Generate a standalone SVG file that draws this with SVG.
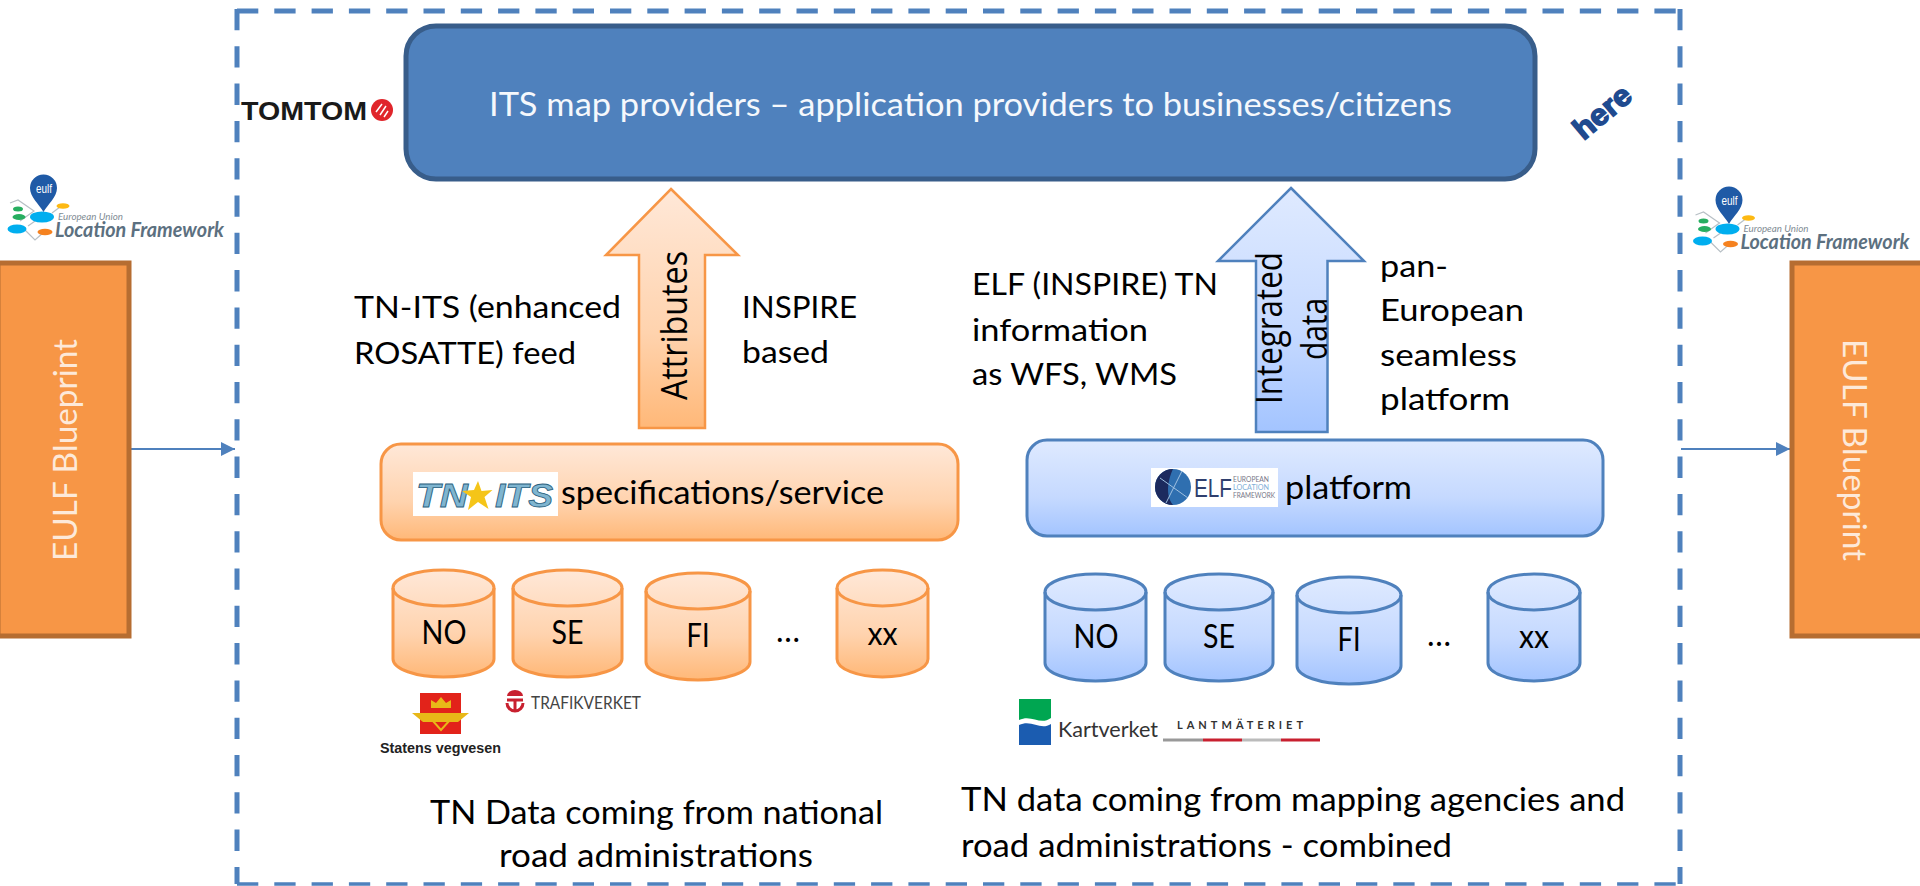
<svg xmlns="http://www.w3.org/2000/svg" width="1920" height="886" viewBox="0 0 1920 886">
<style>
text{font-family:"Lato","Open Sans","Liberation Sans",sans-serif;fill:#000}
.t{font-size:31.500px}
.c{font-size:32px;text-anchor:middle}
.w{font-family:"Open Sans","DejaVu Sans",sans-serif;font-size:37px}
.bp{font-size:32px;fill:#fde9d9;text-anchor:middle}
.o{fill:url(#og);stroke:#f79646;stroke-width:3}
.b{fill:url(#bg);stroke:#4f81bd;stroke-width:3}
.top{fill:none;stroke:#f79646;stroke-width:3}
.topb{fill:none;stroke:#4f81bd;stroke-width:3}
.line{stroke:#4f81bd;stroke-width:2;fill:none}
.dash{stroke:#4f81bd;stroke-width:5;stroke-dasharray:21.3 16;fill:none}
.logo1{font-size:10px;font-style:italic;fill:#7f8c94}
.logo2{font-size:20px;font-weight:700;font-style:italic;fill:#5c7080}
.bpbox{fill:#f79646;stroke:#b66d31;stroke-width:5}
.tn{font-family:"Liberation Sans",sans-serif;font-weight:700;font-style:italic;font-size:33px;fill:#7fb5d0;stroke:#2a5f7e;stroke-width:.8}
</style>
<defs>
<linearGradient id="og" x1="0" y1="0" x2="0" y2="1"><stop offset="0" stop-color="#ffe8d8"/><stop offset=".6" stop-color="#ffd3ae"/><stop offset="1" stop-color="#ffb878"/></linearGradient>
<linearGradient id="bg" x1="0" y1="0" x2="0" y2="1"><stop offset="0" stop-color="#dfeaff"/><stop offset=".6" stop-color="#c5d9ff"/><stop offset="1" stop-color="#a3c4ff"/></linearGradient>
<marker id="ah" markerUnits="userSpaceOnUse" markerWidth="14" markerHeight="14" refX="14" refY="7" orient="auto"><path d="M0 0L14 7L0 14Z" fill="#4f81bd"/></marker>
<g id="eulfmark">
<path d="M10 203L18 200L34 211L20 221M24 229L35 240L44 232M28 226L38 219M52 213L60 207" fill="none" stroke="#b8c0c6" stroke-width="1.2"/>
<ellipse cx="42" cy="217" rx="12" ry="5.5" fill="#00aeef"/>
<path d="M30 188A13.5 13.5 0 0 1 57 188C57 197 48 204 43.500 212C39 204 30 197 30 188Z" fill="#1f5aa6"/>
<ellipse cx="18" cy="209" rx="5" ry="2.500" fill="#27ae60"/>
<ellipse cx="19" cy="217" rx="6.500" ry="3" fill="#27ae60"/>
<ellipse cx="63" cy="206" rx="6.500" ry="2.800" fill="#fdb913"/>
<ellipse cx="17" cy="229" rx="9.500" ry="4.500" fill="#00aeef"/>
<ellipse cx="45" cy="232" rx="7.500" ry="3.200" fill="#f58220"/>
</g>
</defs>

<g id="boundary">
<path class="dash" d="M237 9V884"/>
<path class="dash" d="M237 11H1680"/>
<path class="dash" d="M1680 9V884"/>
<path class="dash" d="M237 884H1680" style="stroke-width:3.500"/>
</g>

<g id="connectors">
<path class="line" d="M129 449H235" marker-end="url(#ah)"/>
<path class="line" d="M1681 449H1790" marker-end="url(#ah)"/>
</g>

<g id="its-providers">
<rect x="406" y="26" width="1129" height="153" rx="30" fill="#4f81bd" stroke="#385d8a" stroke-width="5"/>
<text x="489" y="116" style="font-size:32px;fill:#f5f8fc" textLength="963" lengthAdjust="spacingAndGlyphs">ITS map providers – application providers to businesses/citizens</text>
</g>

<g id="tomtom-logo">
<text x="241" y="120" style="font-family:'Liberation Sans',sans-serif;font-weight:700;font-size:25px;fill:#1a1a1a" textLength="126" lengthAdjust="spacingAndGlyphs">TOMTOM</text>
<circle cx="382" cy="110" r="11" fill="#e0252b"/>
<path d="M376 112l6-8M380 115l6-9M384 117l4-6" stroke="#fff" stroke-width="1.500" fill="none"/>
</g>
<g id="here-logo">
<text transform="translate(1603 113) rotate(-40)" y="9" style="font-size:30px;font-weight:700;fill:#1f4a8f;stroke:#1f4a8f;stroke-width:1.500;text-anchor:middle;font-family:'Liberation Sans',sans-serif" textLength="66" lengthAdjust="spacingAndGlyphs">here</text>
</g>

<g id="eulf-left">
<use href="#eulfmark"/>
<text x="36" y="193" style="font-size:12px;fill:#fff;font-family:'Liberation Sans',sans-serif" textLength="16" lengthAdjust="spacingAndGlyphs">eulf</text>
<text x="58" y="220" class="logo1" textLength="65" lengthAdjust="spacingAndGlyphs">European Union</text>
<text x="55" y="237" class="logo2" textLength="169" lengthAdjust="spacingAndGlyphs">Location Framework</text>
</g>
<g id="eulf-right" transform="translate(1685.500 12)">
<use href="#eulfmark"/>
<text x="36" y="193" style="font-size:12px;fill:#fff;font-family:'Liberation Sans',sans-serif" textLength="16" lengthAdjust="spacingAndGlyphs">eulf</text>
<text x="58" y="220" class="logo1" textLength="65" lengthAdjust="spacingAndGlyphs">European Union</text>
<text x="55" y="237" class="logo2" textLength="169" lengthAdjust="spacingAndGlyphs">Location Framework</text>
</g>

<g id="blueprint-left">
<rect x="-2" y="263" width="131" height="373" class="bpbox"/>
<text transform="translate(77 450) rotate(-90)" class="bp" textLength="222" lengthAdjust="spacingAndGlyphs">EULF Blueprint</text>
</g>
<g id="blueprint-right">
<rect x="1792" y="263" width="135" height="373" class="bpbox"/>
<text transform="translate(1843 450) rotate(90)" class="bp" textLength="222" lengthAdjust="spacingAndGlyphs">EULF Blueprint</text>
</g>

<g id="arrow-attributes">
<path class="o" style="stroke-width:2.500" d="M671 189L738 255H705V428H639V255H606Z"/>
<text transform="translate(687 400) rotate(-90)" class="w" textLength="149" lengthAdjust="spacingAndGlyphs">Attributes</text>
</g>
<g id="arrow-integrated">
<path class="b" style="stroke-width:2.500" d="M1291 188L1364 261H1327.500V432H1256V261H1218Z"/>
<text transform="translate(1282 404) rotate(-90)" class="w" textLength="152" lengthAdjust="spacingAndGlyphs">Integrated</text>
<text transform="translate(1327 360) rotate(-90)" class="w" textLength="62" lengthAdjust="spacingAndGlyphs">data</text>
</g>

<g id="labels">
<text x="354" y="318" class="t" textLength="267" lengthAdjust="spacingAndGlyphs">TN-ITS (enhanced</text>
<text x="354" y="364" class="t" textLength="222" lengthAdjust="spacingAndGlyphs">ROSATTE) feed</text>
<text x="742" y="318" class="t" textLength="115" lengthAdjust="spacingAndGlyphs">INSPIRE</text>
<text x="742" y="363" class="t" textLength="87" lengthAdjust="spacingAndGlyphs">based</text>
<text x="972" y="295" class="t" textLength="246" lengthAdjust="spacingAndGlyphs">ELF (INSPIRE) TN</text>
<text x="972" y="341" class="t" textLength="176" lengthAdjust="spacingAndGlyphs">information</text>
<text x="972" y="385" class="t" textLength="205" lengthAdjust="spacingAndGlyphs">as WFS, WMS</text>
<text x="1380" y="277" class="t" textLength="68" lengthAdjust="spacingAndGlyphs">pan-</text>
<text x="1380" y="321" class="t" textLength="144" lengthAdjust="spacingAndGlyphs">European</text>
<text x="1380" y="366" class="t" textLength="137" lengthAdjust="spacingAndGlyphs">seamless</text>
<text x="1380" y="410" class="t" textLength="130" lengthAdjust="spacingAndGlyphs">platform</text>
<text x="430" y="824" class="c" style="text-anchor:start" textLength="453" lengthAdjust="spacingAndGlyphs">TN Data coming from national</text>
<text x="499" y="867" class="c" style="text-anchor:start" textLength="314" lengthAdjust="spacingAndGlyphs">road administrations</text>
<text x="961" y="811" class="c" style="text-anchor:start" textLength="664" lengthAdjust="spacingAndGlyphs">TN data coming from mapping agencies and</text>
<text x="961" y="857" class="c" style="text-anchor:start" textLength="491" lengthAdjust="spacingAndGlyphs">road administrations - combined</text>
</g>

<g id="tn-its-platform">
<rect x="381" y="444" width="577" height="96" rx="20" class="o"/>
<rect x="413" y="472" width="145" height="44" fill="#fff"/>
<text x="416" y="507" class="tn" textLength="52" lengthAdjust="spacingAndGlyphs">TN</text>
<path d="M478 481l3.500 10 11-1-8 7 4 12-10.500-7-10 8 3-13-9-6 12-1Z" fill="#f5c518"/>
<text x="495" y="507" class="tn" textLength="58" lengthAdjust="spacingAndGlyphs">ITS</text>
<text x="561" y="504" style="font-size:33px" textLength="323" lengthAdjust="spacingAndGlyphs">specifications/service</text>
</g>

<g id="elf-platform">
<rect x="1027" y="440" width="576" height="96" rx="20" class="b"/>
<rect x="1151" y="468" width="127" height="39" fill="#fff"/>
<circle cx="1173" cy="487" r="18" fill="#2f6fb0"/>
<path d="M1173 469A18 18 0 0 0 1173 505C1165 495 1168 480 1173 469Z" fill="#1c2a5e"/>
<path d="M1160 478L1188 498M1166 503L1182 471" stroke="#9fc0e0" stroke-width="1" fill="none"/>
<text x="1194" y="497" style="font-family:'Liberation Sans',sans-serif;font-size:26px;fill:#2f3f6e" textLength="38" lengthAdjust="spacingAndGlyphs">ELF</text>
<text x="1233" y="482" style="font-size:7px;fill:#778" textLength="36" lengthAdjust="spacingAndGlyphs">EUROPEAN</text>
<text x="1233" y="490" style="font-size:7px;fill:#7fb0d8" textLength="36" lengthAdjust="spacingAndGlyphs">LOCATION</text>
<text x="1233" y="498" style="font-size:7px;fill:#778" textLength="42" lengthAdjust="spacingAndGlyphs">FRAMEWORK</text>
<text x="1285" y="499" style="font-size:33px" textLength="127" lengthAdjust="spacingAndGlyphs">platform</text>
</g>

<g id="db-o-no"><path class="o" d="M393 588A50.500 18 0 0 1 494 588V659A50.500 18 0 0 1 393 659Z"/><path class="top" d="M393 588A50.500 18 0 0 0 494 588"/><text x="444" y="644" class="c" textLength="45" lengthAdjust="spacingAndGlyphs">NO</text></g>
<g id="db-o-se"><path class="o" d="M513 588A54.500 18 0 0 1 622 588V659A54.500 18 0 0 1 513 659Z"/><path class="top" d="M513 588A54.500 18 0 0 0 622 588"/><text x="567.500" y="644" class="c" textLength="32" lengthAdjust="spacingAndGlyphs">SE</text></g>
<g id="db-o-fi"><path class="o" d="M646 591A52 18 0 0 1 750 591V662A52 18 0 0 1 646 662Z"/><path class="top" d="M646 591A52 18 0 0 0 750 591"/><text x="698" y="647" class="c" textLength="23" lengthAdjust="spacingAndGlyphs">FI</text></g>
<text id="dots-o" x="788" y="642" class="c">…</text>
<g id="db-o-xx"><path class="o" d="M837 588A45.500 18 0 0 1 928 588V659A45.500 18 0 0 1 837 659Z"/><path class="top" d="M837 588A45.500 18 0 0 0 928 588"/><text x="882.500" y="645" class="c" textLength="30" lengthAdjust="spacingAndGlyphs">xx</text></g>

<g id="db-b-no"><path class="b" d="M1045 592A50.500 18 0 0 1 1146 592V663A50.500 18 0 0 1 1045 663Z"/><path class="topb" d="M1045 592A50.500 18 0 0 0 1146 592"/><text x="1096" y="648" class="c" textLength="45" lengthAdjust="spacingAndGlyphs">NO</text></g>
<g id="db-b-se"><path class="b" d="M1165 592A54 18 0 0 1 1273 592V663A54 18 0 0 1 1165 663Z"/><path class="topb" d="M1165 592A54 18 0 0 0 1273 592"/><text x="1219" y="648" class="c" textLength="32" lengthAdjust="spacingAndGlyphs">SE</text></g>
<g id="db-b-fi"><path class="b" d="M1297 595A52 18 0 0 1 1401 595V666A52 18 0 0 1 1297 666Z"/><path class="topb" d="M1297 595A52 18 0 0 0 1401 595"/><text x="1349" y="651" class="c" textLength="23" lengthAdjust="spacingAndGlyphs">FI</text></g>
<text id="dots-b" x="1439" y="646" class="c">…</text>
<g id="db-b-xx"><path class="b" d="M1488 592A46 18 0 0 1 1580 592V663A46 18 0 0 1 1488 663Z"/><path class="topb" d="M1488 592A46 18 0 0 0 1580 592"/><text x="1534" y="648" class="c" textLength="30" lengthAdjust="spacingAndGlyphs">xx</text></g>

<g id="vegvesen-logo">
<rect x="420" y="693" width="41" height="41" fill="#e2231a"/>
<path d="M412 713H469L458 722H423Z" fill="#e8b818"/>
<path d="M432 720H450L441 730Z" fill="none" stroke="#e8b818" stroke-width="2"/>
<path d="M431 708V700L436 703L441 697L446 703L451 700V708Z" fill="#e8b818"/>
<text x="380" y="753" style="font-family:'Liberation Sans',sans-serif;font-weight:700;font-size:15px;fill:#222" textLength="121" lengthAdjust="spacingAndGlyphs">Statens vegvesen</text>
</g>
<g id="trafikverket-logo">
<path d="M507 700H523M515 700V711M507 703A8 8 0 0 0 523 703" fill="none" stroke="#c8202f" stroke-width="3"/>
<path d="M507 696A8 6 0 0 1 523 696Z" fill="#c8202f"/>
<text x="531" y="709" style="font-size:17px;fill:#444" textLength="110" lengthAdjust="spacingAndGlyphs">TRAFIKVERKET</text>
</g>
<g id="kartverket-logo">
<path d="M1019 699H1051V718C1040 726 1032 714 1019 720Z" fill="#00a651"/>
<path d="M1019 725C1032 719 1040 731 1051 724V745H1019Z" fill="#1b5cb0"/>
<text x="1058" y="737" style="font-size:22px;fill:#333" textLength="100" lengthAdjust="spacingAndGlyphs">Kartverket</text>
</g>
<g id="lantmateriet-logo">
<text x="1177" y="729" style="font-size:11px;font-weight:700;fill:#333;letter-spacing:4px" textLength="130">LANTMÄTERIET</text>
<path d="M1163 740H1203" stroke="#999" stroke-width="3"/>
<path d="M1203 740H1242" stroke="#c8202f" stroke-width="3"/>
<path d="M1242 740H1281" stroke="#bbb" stroke-width="3"/>
<path d="M1281 740H1320" stroke="#c8202f" stroke-width="3"/>
</g>
</svg>
